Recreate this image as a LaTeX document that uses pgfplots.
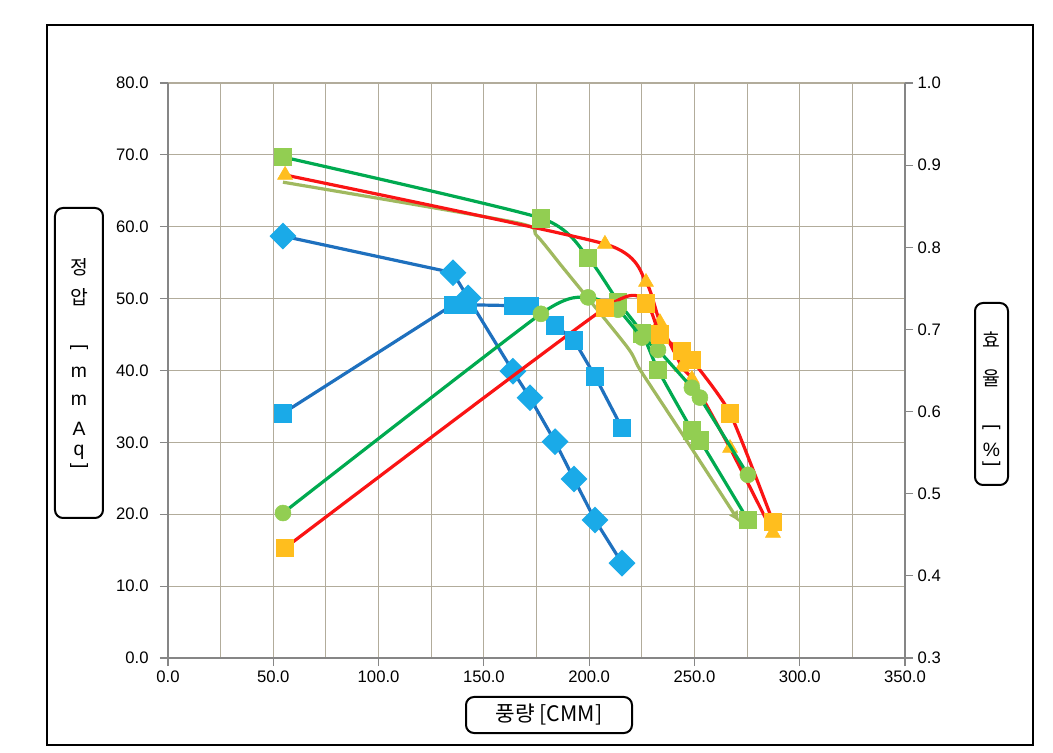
\documentclass[border=0pt]{standalone}
\usepackage{fontspec}
\setmainfont{Liberation Sans}
\newfontfamily\kr{Noto Sans CJK KR}
\usepackage{graphicx}
\usepackage{pgfplots}
\pgfplotsset{compat=1.18}
\usetikzlibrary{arrows.meta}
\definecolor{bluel}{RGB}{30,112,190}
\definecolor{bluem}{RGB}{26,170,232}
\definecolor{greenl}{RGB}{0,170,80}
\definecolor{greenm}{RGB}{146,206,82}
\definecolor{redl}{RGB}{250,20,20}
\definecolor{orm}{RGB}{255,190,30}
\definecolor{olivel}{RGB}{160,185,95}
\definecolor{gridc}{RGB}{178,172,155}
\definecolor{axc}{RGB}{134,134,134}
\pgfplotsset{common/.style={
  scale only axis, width=552.75pt, height=431.25pt,
  xmin=0, xmax=350,
  tick label style={font=\fontsize{12.5}{14}\selectfont},
  /pgf/number format/assume math mode=true,
  xticklabel style={/pgf/number format/.cd,fixed,fixed zerofill,precision=1},
  yticklabel style={/pgf/number format/.cd,fixed,fixed zerofill,precision=1},
  axis line style={axc, line width=0.8pt},
  tick style={axc, line width=0.8pt},
  tick align=outside, major tick length=6pt, minor tick length=0pt,
  clip=false,
}}
\pgfplotsset{
  pl/.style={line width=2.4pt, #1},
  mk/.style={mark options={solid, fill=#1, draw=#1, line width=0.4pt}},
}
\begin{document}
\begin{tikzpicture}
\path[use as bounding box] (-126pt,-71.25pt) rectangle (663.75pt,493.5pt);
\begin{axis}[common, at={(0pt,0pt)}, anchor=south west,
  ymin=0, ymax=80,
  xtick={0,50,...,350}, minor xtick={25,75,...,325},
  ytick={0,10,...,80},
  yticklabel style={/tikz/xshift=-5pt},
  grid=both,
  major grid style={gridc, line width=0.8pt},
  minor grid style={gridc, line width=0.8pt},
  axis x line*=bottom, axis y line*=left,
]
% olive curve
\addplot[pl=olivel, smooth, tension=0.4, -{Latex[length=9pt,width=8pt]}] coordinates {
(54.6,66.2) (165.0,60.6) (175.0,58.8) (187.6,54.3) (218.0,43.3) (224.2,40.1) (244.6,31.0) (271.6,18.8)};
% blue pressure
\addplot[pl=bluel, mark=square*, mark size=5.9pt, mark options={solid, fill=bluem, draw=bluem, rotate=45}] coordinates {
(54.6,58.7) (135.3,53.6) (142.5,50.1) (163.8,39.9) (171.9,36.2) (183.8,30.1) (192.8,24.9) (202.8,19.2) (215.6,13.2)};
% green pressure
\addplot[pl=greenl, smooth, tension=0.35, mark=square*, mark size=6.5pt, mk=greenm] coordinates {
(54.6,69.7) (177.1,61.2) (199.5,55.7) (213.7,49.6) (225.1,45.2) (232.7,40.1) (248.8,31.7) (252.6,30.3) (275.4,19.2)};
% red pressure
\addplot[pl=redl, smooth, tension=0.35, mark=triangle*, mark size=6.5pt, mk=orm] coordinates {
(55.6,67.2) (207.5,57.6) (227.0,52.3) (233.6,46.7) (244.1,40.5) (248.8,38.8) (266.9,29.2) (287.3,17.4)};
\end{axis}
\begin{axis}[common, at={(0pt,0pt)}, anchor=south west,
  ymin=0.3, ymax=1.0,
  ytick={0.3,0.4,0.5,0.6,0.7,0.8,0.9,1.0},
  axis x line=none, axis y line*=right,
]
% blue efficiency
\addplot[pl=bluel, mark=square*, mark size=6.5pt, mk=bluem] coordinates {
(54.6,0.598) (135.3,0.730) (142.5,0.730) (163.8,0.729) (171.9,0.729) (183.8,0.705) (192.8,0.687) (202.8,0.643) (215.6,0.580)};
% green efficiency
\addplot[pl=greenl, smooth, tension=0.35, mark=*, mark size=6pt, mk=greenm] coordinates {
(54.6,0.4765) (177.1,0.719) (199.5,0.739) (213.7,0.724) (225.1,0.690) (232.7,0.675) (248.8,0.629) (252.6,0.617) (275.4,0.523)};
% red efficiency
\addplot[pl=redl, smooth, tension=0.35, mark=square*, mark size=6.5pt, mk=orm] coordinates {
(55.6,0.434) (207.5,0.726) (227.0,0.732) (233.6,0.694) (244.1,0.674) (248.8,0.663) (266.9,0.598) (287.3,0.466)};
\end{axis}
% outer frame
\draw[line width=1.6pt] (-90.75pt,-65.25pt) rectangle (648.75pt,474.75pt);
% left label
\draw[line width=1.5pt, rounded corners=6pt] (-84.75pt,105pt) rectangle (-48.75pt,337.5pt);
\begin{scope}[every node/.style={inner sep=0pt, font=\fontsize{14.5}{16}\selectfont}]
\node at (-66.75pt,293.25pt) {\kr 정};
\node at (-66.75pt,270.75pt) {\kr 압};
\node at (-66.75pt,233.25pt) {\rotatebox{-90}{[}};
\node at (-66.75pt,214.5pt) {m};
\node at (-66.75pt,193.5pt) {m};
\node at (-66.75pt,172pt) {A};
\node at (-66.75pt,154pt) {q};
\node at (-66.75pt,144pt) {\rotatebox{-90}{]}};
% right label
\node at (617.6pt,238.5pt) {\kr 효};
\node at (617.6pt,210pt) {\kr 율};
\node at (617.6pt,173.25pt) {\rotatebox{-90}{[}};
\node at (617.6pt,156pt) {\%};
\node at (617.6pt,145.5pt) {\rotatebox{-90}{]}};
% bottom label
\node[font=\fontsize{16}{18}\selectfont] at (285.75pt,-42.75pt) {\kr 풍량 [CMM]};
\end{scope}
\draw[line width=1.5pt, rounded corners=6pt] (605.25pt,129.75pt) rectangle (630pt,266.25pt);
\draw[line width=1.5pt, rounded corners=6pt] (223.5pt,-56.25pt) rectangle (348pt,-29.25pt);
\end{tikzpicture}
\end{document}
